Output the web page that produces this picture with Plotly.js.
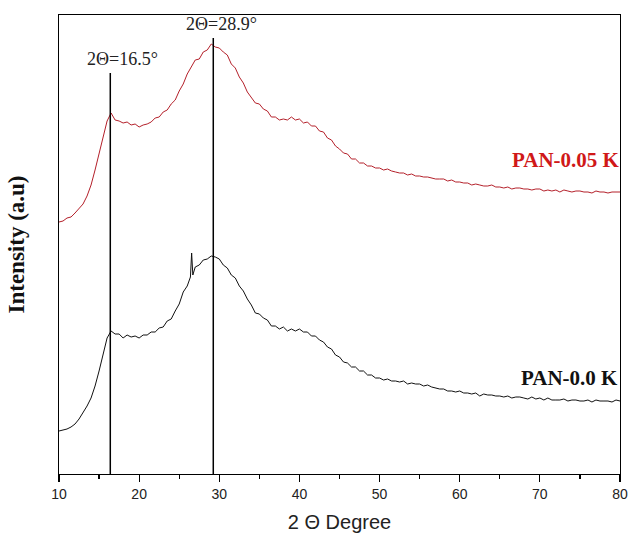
<!DOCTYPE html>
<html>
<head>
<meta charset="utf-8">
<script src="https://cdn.plot.ly/plotly-3.0.1.min.js"></script>
<style>html,body{margin:0;padding:0;background:#fff;}#chart{width:628px;height:533px;}</style>
</head>
<body>
<div id="chart"></div>
<script>
// 2-theta positions (degrees)
const thetaRed = [10,10.5,11,11.5,12,12.5,13,13.5,14,14.5,15,15.5,16,16.5,17,17.5,18,18.5,19,19.5,20,20.5,21,21.5,22,22.5,23,23.5,24,24.5,25,25.5,26,26.5,27,27.5,28,28.5,29,29.5,30,30.5,31,31.5,32,32.5,33,33.5,34,34.5,35,35.5,36,36.5,37,37.5,38,38.5,39,39.5,40,40.5,41,41.5,42,42.5,43,43.5,44,44.5,45,45.5,46,46.5,47,47.5,48,48.5,49,49.5,50,50.5,51,51.5,52,52.5,53,53.5,54,54.5,55,55.5,56,56.5,57,57.5,58,58.5,59,59.5,60,60.5,61,61.5,62,62.5,63,63.5,64,64.5,65,65.5,66,66.5,67,67.5,68,68.5,69,69.5,70,70.5,71,71.5,72,72.5,73,73.5,74,74.5,75,75.5,76,76.5,77,77.5,78,78.5,79,79.5,80];
// PAN-0.05 K intensity (a.u., offset trace)
const intRed = [246,247,250,251,255,259,264,272,283,298,315,331,347,355,348,347,345,346,343,344,341,343,344,346,350,351,356,358,364,368,377,384,394,401,408,409,416,418,424,421,420,416,413,404,400,391,385,376,371,365,364,359,357,351,351,348,349,348,351,348,349,345,346,342,342,337,336,330,328,322,319,315,314,309,309,305,305,302,302,300,300,298,299,297,296,295,295,293,294,292,292,291,291,290,289,289,289,287,288,286,286,285,285,283,284,283,282,282,283,281,281,280,281,279,280,280,279,279,278,279,279,277,278,277,278,276,278,277,276,277,277,276,276,275,277,276,276,275,276,276,276];

const thetaBlack = [10,10.5,11,11.5,12,12.5,13,13.5,14,14.5,15,15.5,16,16.5,17,17.5,18,18.5,19,19.5,20,20.5,21,21.5,22,22.5,23,23.5,24,24.5,25,25.5,26,26.4,26.55,26.7,27,27.5,28,28.5,29,29.5,30,30.5,31,31.5,32,32.5,33,33.5,34,34.5,35,35.5,36,36.5,37,37.5,38,38.5,39,39.5,40,40.5,41,41.5,42,42.5,43,43.5,44,44.5,45,45.5,46,46.5,47,47.5,48,48.5,49,49.5,50,50.5,51,51.5,52,52.5,53,53.5,54,54.5,55,55.5,56,56.5,57,57.5,58,58.5,59,59.5,60,60.5,61,61.5,62,62.5,63,63.5,64,64.5,65,65.5,66,66.5,67,67.5,68,68.5,69,69.5,70,70.5,71,71.5,72,72.5,73,73.5,74,74.5,75,75.5,76,76.5,77,77.5,78,78.5,79,79.5,80];
// PAN-0.0 K intensity (a.u.)
const intBlack = [37,38,39,41,44,49,55,62,70,82,97,115,130,137,134,134,130,133,131,132,130,133,133,136,136,140,141,147,149,157,164,176,182,191,215,193,201,203,208,209,212,211,209,203,200,193,190,182,177,169,163,155,154,150,148,142,142,139,141,137,139,137,139,136,136,132,132,128,126,121,119,113,111,106,105,101,101,97,97,93,93,90,90,88,89,87,87,86,87,84,85,84,84,82,83,81,80,79,79,77,77,76,77,75,75,74,75,72,74,73,73,72,72,71,72,70,71,71,70,69,71,69,70,68,70,68,68,68,69,67,68,68,67,67,68,66,68,67,67,67,66,68,67];

const seriesNames = ["PAN-0.05 K", "PAN-0.0 K"];
const peakPositions = [16.4, 29.25];
const peakLabels = ["2Θ=16.5°", "2Θ=28.9°"];
const peakLineTops = [395, 430];
const xTickVals = [10,20,30,40,50,60,70,80];

const traces = [
  {x: thetaRed, y: intRed, type: 'scatter', mode: 'lines', name: seriesNames[0],
   line: {color: '#b4202a', width: 1}},
  {x: thetaBlack, y: intBlack, type: 'scatter', mode: 'lines', name: seriesNames[1],
   line: {color: '#111111', width: 1}}
];

const shapes = peakPositions.map((p, i) => ({
  type: 'line', xref: 'x', yref: 'y', x0: p, x1: p, y0: -6, y1: peakLineTops[i],
  line: {color: '#000', width: 1.5}
}));

const annotations = [
  {x: peakPositions[0], y: peakLineTops[0], xref: 'x', yref: 'y', text: peakLabels[0], showarrow: false,
   xanchor: 'center', yanchor: 'bottom', xshift: 12, yshift: 2,
   font: {family: 'Liberation Serif, Times New Roman, serif', size: 18, color: '#222'}},
  {x: peakPositions[1], y: peakLineTops[1], xref: 'x', yref: 'y', text: peakLabels[1], showarrow: false,
   xanchor: 'center', yanchor: 'bottom', xshift: 8, yshift: 2,
   font: {family: 'Liberation Serif, Times New Roman, serif', size: 18, color: '#222'}},
  {x: 80, y: 308, xref: 'x', yref: 'y', text: '<b>' + seriesNames[0] + '</b>', showarrow: false,
   xanchor: 'right', yanchor: 'middle', xshift: 2,
   font: {family: 'Liberation Serif, Times New Roman, serif', size: 21, color: '#d01818'}},
  {x: 80, y: 90, xref: 'x', yref: 'y', text: '<b>' + seriesNames[1] + '</b>', showarrow: false,
   xanchor: 'right', yanchor: 'middle',
   font: {family: 'Liberation Serif, Times New Roman, serif', size: 21, color: '#111'}}
];

const layout = {
  width: 628, height: 533,
  margin: {l: 59, r: 8, t: 15, b: 59},
  paper_bgcolor: '#fff', plot_bgcolor: '#fff',
  showlegend: false,
  xaxis: {
    range: [10, 80], tickvals: xTickVals, ticks: 'outside', ticklen: 7, tickwidth: 1.2, tickcolor: '#000',
    minor: {dtick: 5, ticks: 'outside', ticklen: 4, tickwidth: 1.2, tickcolor: '#000'},
    showline: true, linecolor: '#000', linewidth: 1.3, mirror: true, showgrid: false, zeroline: false,
    tickfont: {family: 'Liberation Sans, Arial, sans-serif', size: 14, color: '#222'},
    title: {text: '2 Θ Degree', font: {family: 'Liberation Sans, Arial, sans-serif', size: 20, color: '#222'}, standoff: 14}
  },
  yaxis: {
    range: [-6, 453], showticklabels: false, ticks: '', showgrid: false, zeroline: false,
    showline: true, linecolor: '#000', linewidth: 1.3, mirror: true,
    title: {text: '<b>Intensity (a.u)</b>', font: {family: 'Liberation Serif, Times New Roman, serif', size: 23, color: '#111'}, standoff: 26}
  },
  shapes: shapes,
  annotations: annotations
};

Plotly.newPlot('chart', traces, layout, {staticPlot: true, displayModeBar: false});
</script>
</body>
</html>
